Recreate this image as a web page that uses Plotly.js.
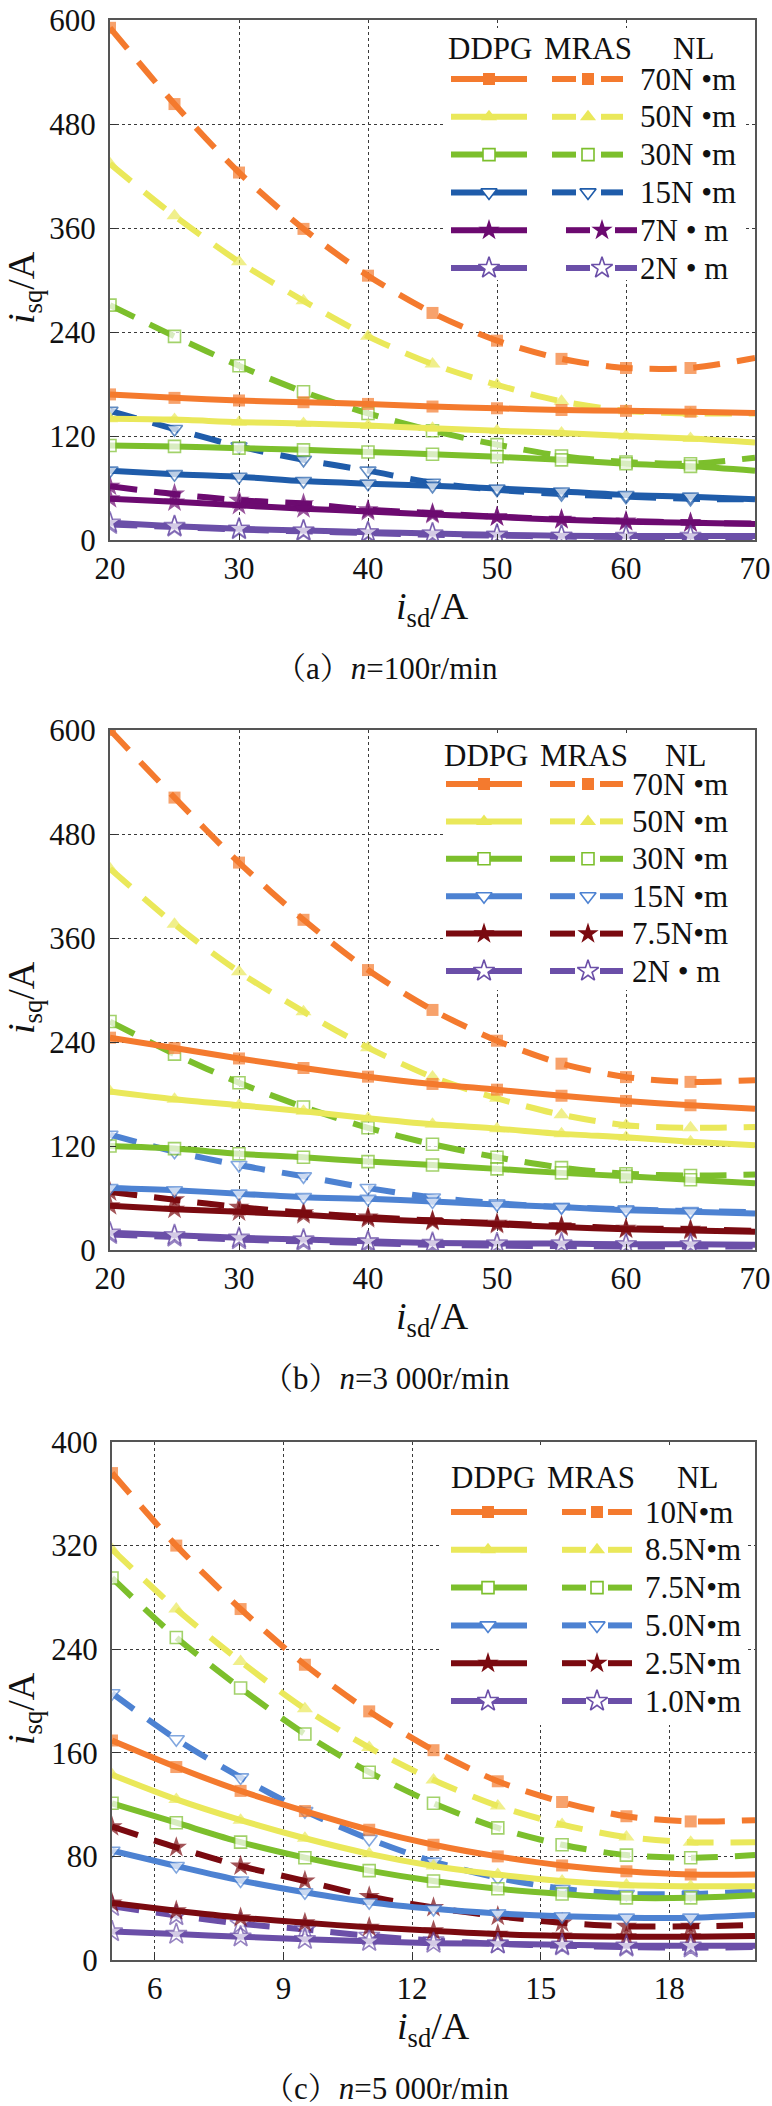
<!DOCTYPE html>
<html><head><meta charset="utf-8">
<script src="https://cdn.plot.ly/plotly-3.0.1.min.js"></script>
<style>html,body{margin:0;padding:0;background:#fff}#chart{width:772px;height:2106px}</style>
</head><body><div id="chart"></div>
<script>
// ---------------- data ----------------
const xAB = [20,25,30,35,40,45,50,55,60,65,70];
const xC  = [5,6.5,8,9.5,11,12.5,14,15.5,17,18.5,20];

const xTicksAB = [20,30,40,50,60,70];
const yTicksAB = [0,120,240,360,480,600];
const xTicksC  = [6,9,12,15,18];
const yTicksC  = [0,80,160,240,320,400];

// (a) n = 100 r/min
const aDDPG70 = [168,164,161,159,157,154,152,150,149,148,146.5];
const aMRAS70 = [591,503,424,359,305,262,230,209,198.5,198.5,210];
const aDDPG50 = [140,139,136,134.5,132,129,126,123.5,120,117,112.5];
const aMRAS50 = [434,374,321,276,235,203,179,160,149,146,146];
const aDDPG30 = [109,108,106,104,101.5,99,96,92.5,88,85,80];
const aMRAS30 = [271,235,201,171,146,126,110,97,90,88,95];
const aDDPG15 = [80,76,73,68,65,62.5,59.5,56,52,50,47];
const aMRAS15 = [149,128,108,92.5,80,66,58,53,50,47.5,47];
const aDDPG7  = [47.6,44,40,36,33,29.5,26.5,23.4,21,20,18.5];
const aMRAS7  = [62,53,46,42,35,31,27,24,22,20,19];
const aDDPG2  = [20,16,13,11,9,7.5,6,5,4.5,4.5,4.5];
const aMRAS2  = [18,15,12,10,8,6,5,4,3.5,3,3];
const aLabels = ["70N •m","50N •m","30N •m","15N •m","7N • m","2N • m"];

// (b) n = 3 000 r/min
const bDDPG70 = [245,233,221,210,200,191.6,185,178,172,167,163];
const bMRAS70 = [600,522,447,381,323,277,241.5,215,199.5,194,196];
const bDDPG50 = [183,174,167,160,152,145,140,134,130,125,121];
const bMRAS50 = [440,376,321,275,233.5,199.5,175,156,144,141,142];
const bDDPG30 = [120,117,111,107,102,98,93.6,89,85,81,77];
const bMRAS30 = [263.6,226,193,165,141,122,107,95,88,86,87];
const bDDPG15 = [71.5,69,65,61,59,56,52.5,49.5,46,44,42];
const bMRAS15 = [133,113.5,98,85,71.5,60.5,54,49.5,47,45,43.7];
const bDDPG75 = [51,47,44,40.6,36,33,29.6,26.5,24,22.5,21];
const bMRAS75 = [67,58,49.5,43,38,34,31,28,25,24,22];
const bDDPG2  = [20,17,14,12,10,8,7.5,7.5,6.6,6.6,6];
const bMRAS2  = [18,15,12,10,8,6,5,4.5,4,4,4];
const bLabels = ["70N •m","50N •m","30N •m","15N •m","7.5N•m","2N • m"];

// (c) n = 5 000 r/min
const cDDPG10  = [169.5,149,130.6,115,100.6,89,80,73,68.5,66,66];
const cMRAS10  = [376,320,271,228,192,162,138,122,111,107,108];
const cDDPG85  = [143,124,108,94,82,72.6,66,61,58,57,57];
const cMRAS85  = [317,271,230.5,194,164,139,119,104.6,95,91,91];
const cDDPG75  = [121,106,91,79,69,61,55,51,48,48,50];
const cMRAS75  = [295,249,210,174.5,145,121,102,89,81,79,81];
const cDDPG50  = [84.4,72.6,61.4,52.3,44.6,39.5,36,33.8,32.7,32.7,34.8];
const cMRAS50  = [206,170.5,141,115,93.5,76,63.5,55,51,51,53];
const cDDPG25  = [44,38,32.7,28.7,25.3,22.6,20,18.6,18,18,18.6];
const cMRAS25  = [103,87,72.6,61,49,40.5,33.8,28.7,26,26,27];
const cDDPG1   = [22,20,18,16,14.5,13,12.5,11.8,11,11,11];
const cMRAS1   = [41.5,34.4,28,23.6,18.6,15,12.5,11,10,9.5,10];
const cLabels = ["10N•m","8.5N•m","7.5N•m","5.0N•m","2.5N•m","1.0N•m"];

const legendHeader = ["DDPG","MRAS","NL"];
const captions = ["（a）<i>n</i>=100r/min","（b）<i>n</i>=3 000r/min","（c）<i>n</i>=5 000r/min"];

// ---------------- styles ----------------
const W = 772, H = 2106;
const FONT = 'Liberation Serif, "Times New Roman", "Noto Serif CJK SC", "Noto Sans CJK SC", serif';
const ORANGE='#F47A2E', YELLOW='#EAE85A', GREEN='#7CBF2C', VIOLET='#6B4FA8';
const colorsA = [ORANGE, YELLOW, GREEN, '#1F5CAA', '#6C0A70', VIOLET];
const colorsBC = [ORANGE, YELLOW, GREEN, '#4D82D2', '#7A0A10', VIOLET];
const symbols = ['square','triangle-up','square','triangle-down','star','star'];
const openSym = [false,false,true,true,false,true];
const msize   = [12,14,12,14,16,16];

const panels = [
  {xs:xAB, ddpg:[aDDPG70,aDDPG50,aDDPG30,aDDPG15,aDDPG7,aDDPG2], mras:[aMRAS70,aMRAS50,aMRAS30,aMRAS15,aMRAS7,aMRAS2],
   labels:aLabels, colors:colorsA, xr:[20,70], yr:[0,600], xt:xTicksAB, yt:yTicksAB,
   left:110, right:755, top:20, bottom:540, box:[445,743,28,280],
   lg:{hy:48, hx:[490,588,693], r0:79, dr:37.8, d:[451,527], dm:489, m1:[552,576], m2:[601,623], mm:588, lx:638, shift:[0,0,0,0,14,14]}},
  {xs:xAB, ddpg:[bDDPG70,bDDPG50,bDDPG30,bDDPG15,bDDPG75,bDDPG2], mras:[bMRAS70,bMRAS50,bMRAS30,bMRAS15,bMRAS75,bMRAS2],
   labels:bLabels, colors:colorsBC, xr:[20,70], yr:[0,600], xt:xTicksAB, yt:yTicksAB,
   left:110, right:755, top:730, bottom:1250, box:[443,755,735,990],
   lg:{hy:755, hx:[486,584,685], r0:784, dr:37.4, d:[446,522], dm:484, m1:[550,575], m2:[600,623], mm:588, lx:630, shift:[0,0,0,0,0,0]}},
  {xs:xC, ddpg:[cDDPG10,cDDPG85,cDDPG75,cDDPG50,cDDPG25,cDDPG1], mras:[cMRAS10,cMRAS85,cMRAS75,cMRAS50,cMRAS25,cMRAS1],
   labels:cLabels, colors:colorsBC, xr:[5,20], yr:[0,400], xt:xTicksC, yt:yTicksC,
   left:112, right:755, top:1442, bottom:1960, box:[440,745,1445,1725],
   lg:{hy:1477, hx:[493,591,697], r0:1512, dr:37.8, d:[451,527], dm:488, m1:[562,586], m2:[608,632], mm:597, lx:643, shift:[0,0,0,0,0,0]}}
];

const traces = [];
const layout = {
  width:W, height:H, margin:{l:0,r:0,t:0,b:0}, showlegend:false,
  paper_bgcolor:'#fff', plot_bgcolor:'rgba(0,0,0,0)',
  font:{family:FONT, color:'#111'},
  shapes:[], annotations:[]
};

function mk(j, color){
  return openSym[j] ? {symbol:symbols[j], color:'#fff', line:{color:color, width:1.6}}
                    : {symbol:symbols[j], color:color, line:{color:color, width:0}};
}

panels.forEach((p, i) => {
  const sx = i===0 ? '' : String(i+1);
  const xa = 'x'+sx, ya = 'y'+sx;
  const common = {fixedrange:true, showline:true, mirror:true, linecolor:'#555', linewidth:2,
    zeroline:false, showgrid:true, gridcolor:'#3a3a3a', griddash:'dot', gridwidth:1,
    ticks:'inside', ticklen:6, tickcolor:'#333', tickfont:{family:FONT, size:31, color:'#111'}};
  layout['xaxis'+sx] = Object.assign({}, common, {domain:[p.left/W, p.right/W], range:p.xr, anchor:ya, tickvals:p.xt, ticklabelstandoff:0});
  layout['yaxis'+sx] = Object.assign({}, common, {domain:[1-p.bottom/H, 1-p.top/H], range:p.yr, anchor:xa, tickvals:p.yt, ticklabelstandoff:6});

  const n = p.xs.length;
  [['mras','27px,17px'],['ddpg','solid']].forEach(([key, dash]) => {
    p[key].forEach((ys, j) => {
      const c = p.colors[j];
      traces.push({x:p.xs, y:ys, xaxis:xa, yaxis:ya, type:'scatter', mode:'lines+markers',
        line:{color:c, width:6, dash:dash, shape:'spline', smoothing:0.8},
        marker:Object.assign(mk(j,c), {size:p.xs.map((v,k)=> k===n-1 ? 0 : msize[j])}),
        hoverinfo:'skip'});
    });
  });

  const px2x = v => p.xr[0] + (v - p.left)/(p.right - p.left)*(p.xr[1]-p.xr[0]);
  const py2y = v => p.yr[0] + (p.bottom - v)/(p.bottom - p.top)*(p.yr[1]-p.yr[0]);
  layout.shapes.push({type:'rect', xref:xa, yref:ya, layer:'between',
    x0:px2x(p.box[0]), x1:Math.min(px2x(p.box[1]), p.xr[1]), y0:py2y(p.box[3]), y1:py2y(p.box[2]),
    fillcolor:'#fff', line:{width:0}});

  const L = p.lg;
  legendHeader.forEach((t, k) => layout.annotations.push({xref:'x4', yref:'y4', x:L.hx[k], y:L.hy, text:t,
    showarrow:false, xanchor:'center', yanchor:'middle', font:{family:FONT, size:31, color:'#111'}}));
  p.labels.forEach((t, j) => {
    const ry = L.r0 + j*L.dr, c = p.colors[j], s = L.shift[j];
    traces.push({x:L.d, y:[ry,ry], xaxis:'x4', yaxis:'y4', mode:'lines', line:{color:c, width:6}, hoverinfo:'skip'});
    traces.push({x:[L.dm], y:[ry], xaxis:'x4', yaxis:'y4', mode:'markers', marker:Object.assign(mk(j,c), {size:msize[j]}), hoverinfo:'skip'});
    traces.push({x:[L.m1[0]+s, L.m1[1]+s, null, L.m2[0]+s, L.m2[1]+s], y:[ry,ry,null,ry,ry], xaxis:'x4', yaxis:'y4', mode:'lines', line:{color:c, width:6}, hoverinfo:'skip'});
    traces.push({x:[L.mm+s], y:[ry], xaxis:'x4', yaxis:'y4', mode:'markers', marker:Object.assign(mk(j,c), {size:msize[j]}), hoverinfo:'skip'});
    layout.annotations.push({xref:'x4', yref:'y4', x:L.lx, y:ry, text:t, showarrow:false, xanchor:'left', yanchor:'middle',
      font:{family:FONT, size:31, color:'#111'}});
  });

  const midX = (p.left + p.right)/2, midY = (p.top + p.bottom)/2;
  layout.annotations.push({xref:'x4', yref:'y4', x:midX, y:p.bottom+69, text:'<i>i</i><sub>sd</sub>/A', showarrow:false,
    xanchor:'center', yanchor:'middle', font:{family:FONT, size:38, color:'#111'}});
  layout.annotations.push({xref:'x4', yref:'y4', x:24, y:midY+8, text:'<i>i</i><sub>sq</sub>/A', showarrow:false, textangle:-90,
    xanchor:'center', yanchor:'middle', font:{family:FONT, size:38, color:'#111'}});
  layout.annotations.push({xref:'x4', yref:'y4', x:386, y:p.bottom+128, text:captions[i], showarrow:false,
    xanchor:'center', yanchor:'middle', font:{family:FONT, size:31, color:'#111'}});
});

layout.xaxis4 = {domain:[0,1], range:[0,W], anchor:'y4', visible:false, fixedrange:true};
layout.yaxis4 = {domain:[0,1], range:[H,0], anchor:'x4', visible:false, fixedrange:true};

Plotly.newPlot('chart', traces, layout, {staticPlot:true, displayModeBar:false});
</script>
</body></html>
